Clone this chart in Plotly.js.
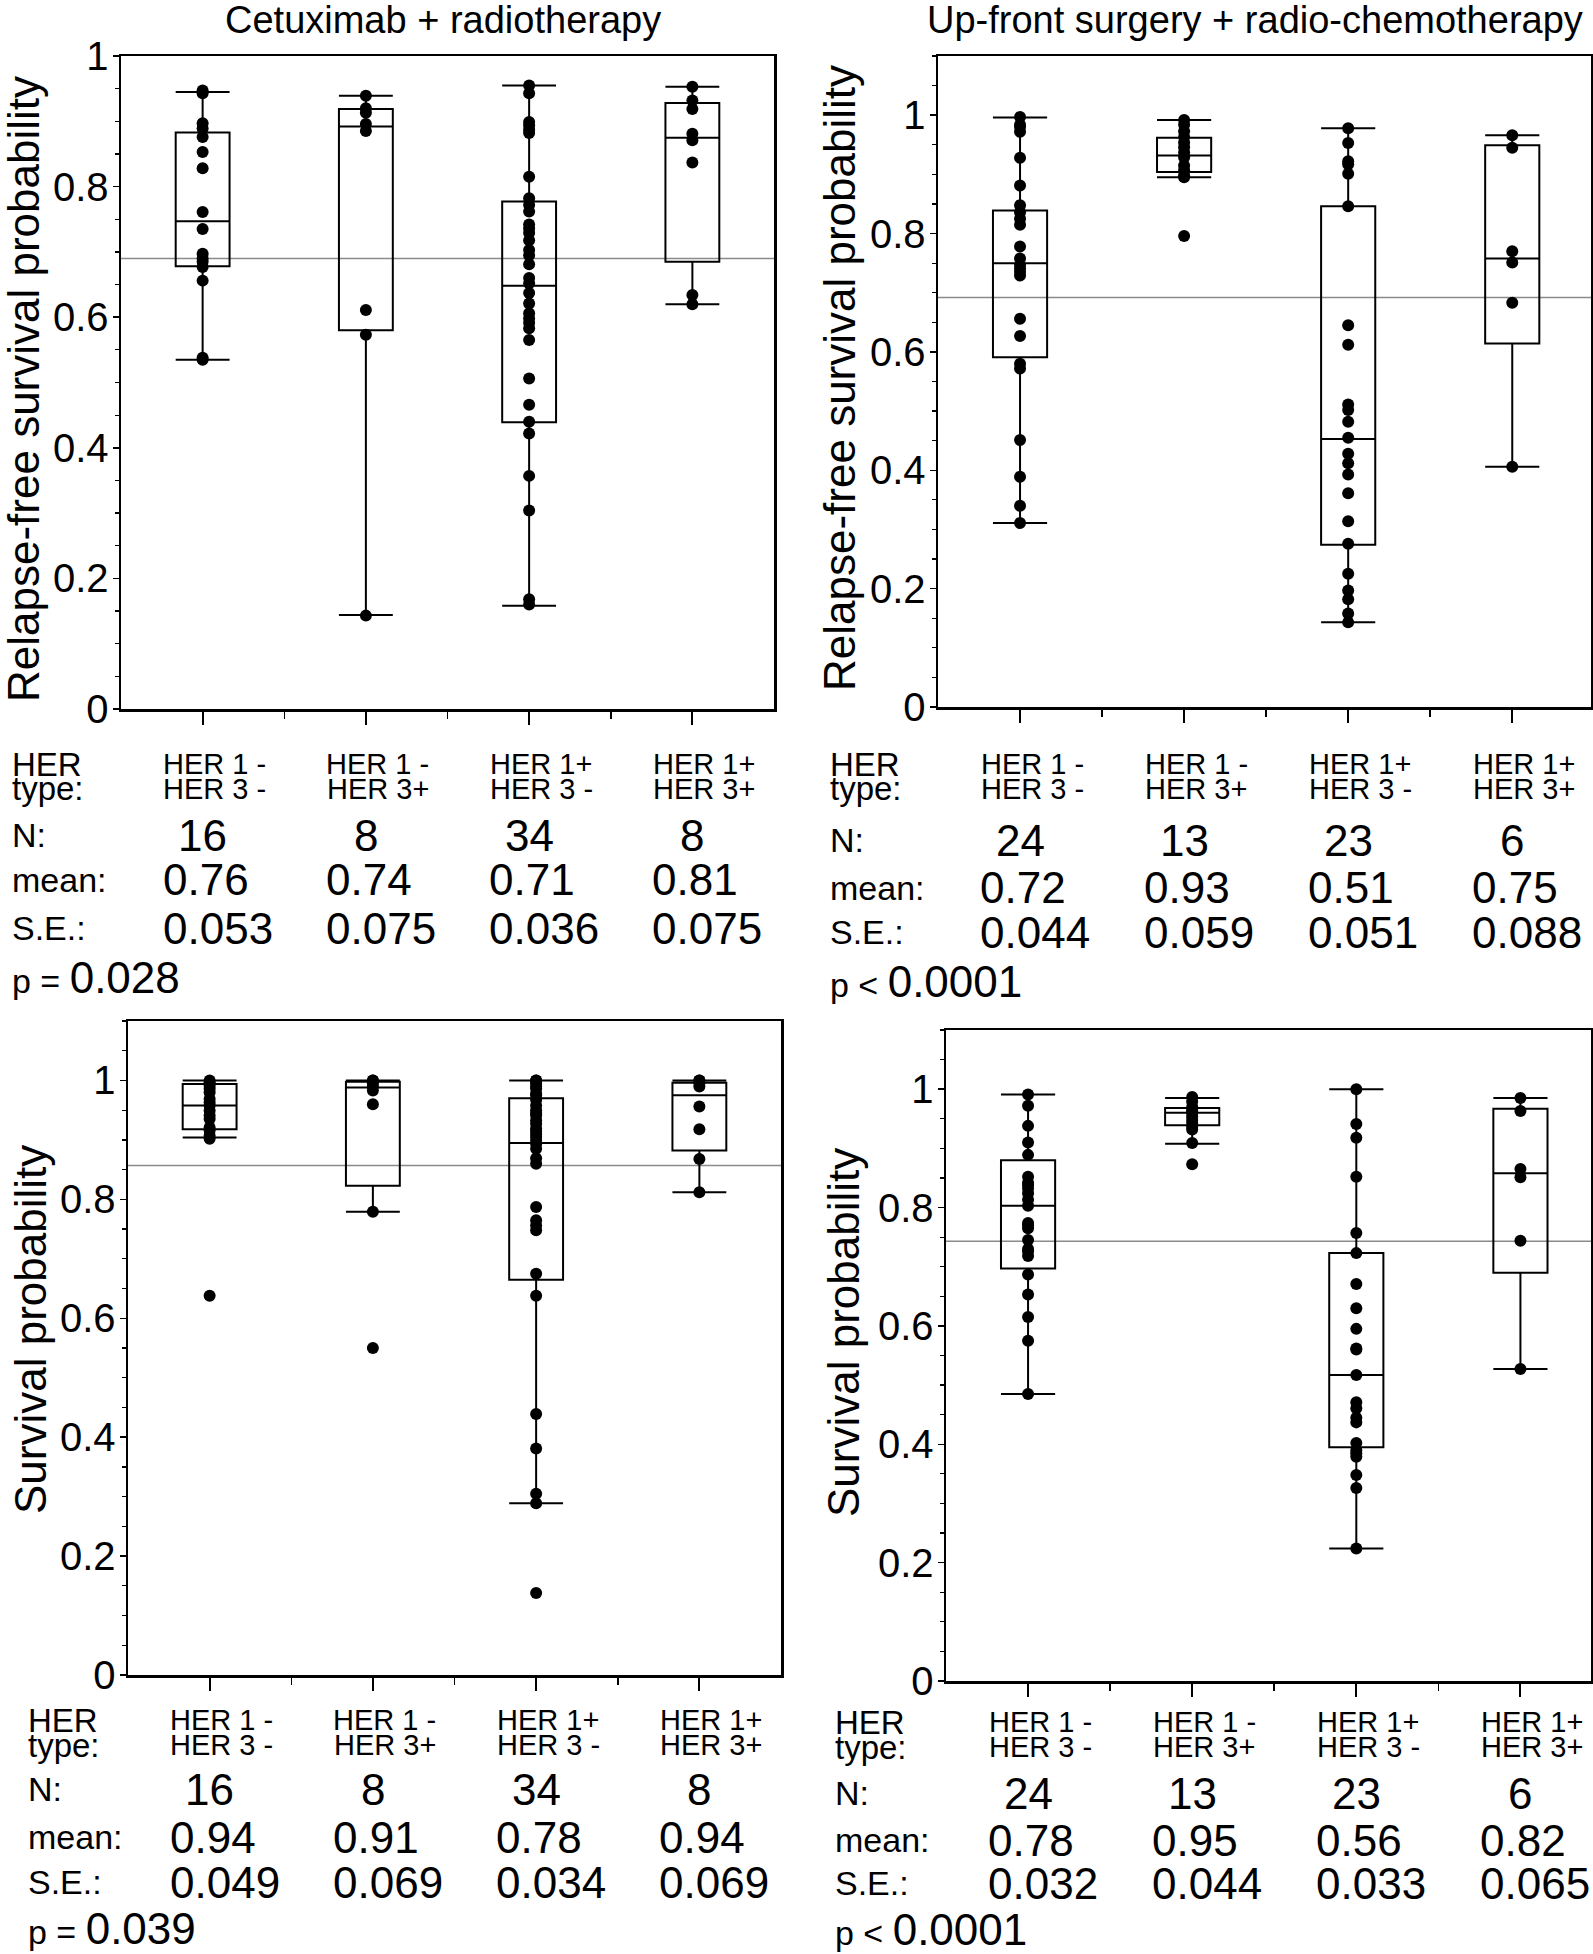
<!DOCTYPE html>
<html><head><meta charset="utf-8">
<script src="https://cdn.plot.ly/plotly-3.0.1.min.js"></script>
<style>html,body{margin:0;padding:0;background:#fff}#chart{width:1593px;height:1954px}</style>
</head><body><div id="chart"></div>
<script>
// ---------- shared labels ----------
const groupLine1 = ['HER 1 -', 'HER 1 -', 'HER 1+', 'HER 1+'];
const groupLine2 = ['HER 3 -', 'HER 3+', 'HER 3 -', 'HER 3+'];
const panelTitles = ['Cetuximab + radiotherapy', 'Up-front surgery + radio-chemotherapy'];
const yTitles = ['Relapse-free survival probability', 'Relapse-free survival probability', 'Survival probability', 'Survival probability'];
const yTickVals = [0, 0.2, 0.4, 0.6, 0.8, 1];
const yTickText = ['0', '0.2', '0.4', '0.6', '0.8', '1'];

// ---------- Panel A: relapse-free survival, cetuximab + RT ----------
const rfsCetuxPoints = [
  [0.947, 0.943, 0.897, 0.889, 0.876, 0.853, 0.828, 0.761, 0.735, 0.697, 0.690, 0.685, 0.677, 0.656, 0.538, 0.535],
  [0.939, 0.920, 0.913, 0.896, 0.885, 0.611, 0.573, 0.143],
  [0.955, 0.943, 0.899, 0.894, 0.887, 0.882, 0.815, 0.782, 0.772, 0.762, 0.742, 0.736, 0.729, 0.718, 0.703, 0.695, 0.681,
   0.660, 0.652, 0.637, 0.621, 0.606, 0.598, 0.591, 0.583, 0.565, 0.506, 0.466, 0.440, 0.422, 0.357, 0.304, 0.168, 0.160],
  [0.953, 0.932, 0.919, 0.881, 0.871, 0.837, 0.634, 0.620]
];
const rfsCetuxQ1 = [0.678, 0.580, 0.439, 0.685];
const rfsCetuxMedian = [0.747, 0.892, 0.648, 0.875];
const rfsCetuxQ3 = [0.883, 0.919, 0.777, 0.928];
const rfsCetuxLow = [0.535, 0.144, 0.158, 0.620];
const rfsCetuxHigh = [0.945, 0.939, 0.955, 0.953];
const rfsCetuxOverall = 0.690;
const rfsCetuxN = ['16', '8', '34', '8'];
const rfsCetuxMean = ['0.76', '0.74', '0.71', '0.81'];
const rfsCetuxSE = ['0.053', '0.075', '0.036', '0.075'];
const rfsCetuxP = ['=', '0.028'];

// ---------- Panel B: relapse-free survival, surgery + RCT ----------
const rfsSurgPoints = [
  [0.997, 0.984, 0.980, 0.972, 0.928, 0.881, 0.848, 0.836, 0.825, 0.815, 0.778, 0.758, 0.747, 0.741, 0.735, 0.729,
   0.656, 0.627, 0.580, 0.572, 0.451, 0.389, 0.340, 0.311],
  [0.992, 0.984, 0.973, 0.963, 0.954, 0.946, 0.937, 0.929, 0.915, 0.907, 0.898, 0.895, 0.796],
  [0.978, 0.953, 0.922, 0.917, 0.901, 0.846, 0.645, 0.612, 0.511, 0.502, 0.482, 0.455, 0.428, 0.412, 0.393, 0.361,
   0.314, 0.276, 0.225, 0.197, 0.182, 0.158, 0.143],
  [0.966, 0.945, 0.770, 0.751, 0.683, 0.406]
];
const rfsSurgQ1 = [0.591, 0.904, 0.274, 0.614];
const rfsSurgMedian = [0.750, 0.932, 0.453, 0.758];
const rfsSurgQ3 = [0.839, 0.962, 0.846, 0.949];
const rfsSurgLow = [0.311, 0.895, 0.143, 0.406];
const rfsSurgHigh = [0.996, 0.992, 0.978, 0.966];
const rfsSurgOverall = 0.692;
const rfsSurgN = ['24', '13', '23', '6'];
const rfsSurgMean = ['0.72', '0.93', '0.51', '0.75'];
const rfsSurgSE = ['0.044', '0.059', '0.051', '0.088'];
const rfsSurgP = ['&lt;', '0.0001'];

// ---------- Panel C: overall survival, cetuximab + RT ----------
const osCetuxPoints = [
  [1.0, 0.997, 0.991, 0.986, 0.980, 0.969, 0.963, 0.958, 0.949, 0.941, 0.935, 0.921, 0.916, 0.907, 0.902, 0.638],
  [1.0, 1.0, 0.995, 0.990, 0.983, 0.960, 0.779, 0.550],
  [1.0, 1.0, 0.995, 0.990, 0.986, 0.978, 0.975, 0.967, 0.958, 0.950, 0.945, 0.941, 0.933, 0.927, 0.919, 0.915, 0.910,
   0.905, 0.899, 0.893, 0.885, 0.869, 0.860, 0.787, 0.765, 0.756, 0.748, 0.675, 0.638, 0.439, 0.381, 0.305, 0.289, 0.138],
  [1.0, 1.0, 0.995, 0.990, 0.956, 0.918, 0.868, 0.812]
];
const osCetuxQ1 = [0.918, 0.823, 0.665, 0.882];
const osCetuxMedian = [0.958, 0.988, 0.895, 0.975];
const osCetuxQ3 = [0.994, 0.998, 0.970, 0.996];
const osCetuxLow = [0.904, 0.779, 0.289, 0.812];
const osCetuxHigh = [1.0, 1.0, 1.0, 1.0];
const osCetuxOverall = 0.857;
const osCetuxN = ['16', '8', '34', '8'];
const osCetuxMean = ['0.94', '0.91', '0.78', '0.94'];
const osCetuxSE = ['0.049', '0.069', '0.034', '0.069'];
const osCetuxP = ['=', '0.039'];

// ---------- Panel D: overall survival, surgery + RCT ----------
const osSurgPoints = [
  [0.991, 0.972, 0.938, 0.910, 0.889, 0.852, 0.842, 0.838, 0.832, 0.824, 0.813, 0.803, 0.774, 0.770, 0.765, 0.745,
   0.730, 0.726, 0.718, 0.687, 0.653, 0.615, 0.575, 0.485],
  [0.987, 0.979, 0.970, 0.965, 0.962, 0.960, 0.954, 0.948, 0.943, 0.937, 0.932, 0.909, 0.873],
  [1.0, 0.941, 0.918, 0.852, 0.757, 0.723, 0.671, 0.630, 0.595, 0.562, 0.560, 0.517, 0.471, 0.461, 0.445, 0.437,
   0.402, 0.390, 0.385, 0.379, 0.348, 0.326, 0.224],
  [0.985, 0.963, 0.865, 0.851, 0.744, 0.527]
];
const osSurgQ1 = [0.697, 0.939, 0.395, 0.690];
const osSurgMedian = [0.803, 0.960, 0.517, 0.858];
const osSurgQ3 = [0.880, 0.968, 0.723, 0.967];
const osSurgLow = [0.485, 0.908, 0.224, 0.527];
const osSurgHigh = [0.991, 0.985, 1.0, 0.985];
const osSurgOverall = 0.743;
const osSurgN = ['24', '13', '23', '6'];
const osSurgMean = ['0.78', '0.95', '0.56', '0.82'];
const osSurgSE = ['0.032', '0.044', '0.033', '0.065'];
const osSurgP = ['&lt;', '0.0001'];

// ---------- geometry (pixels of the 1593 x 1954 page) ----------
const W = 1593, H = 1954;
const FONT = 'Liberation Sans, Arial, Helvetica, sans-serif';
const px = v => v / W;
const py = v => 1 - v / H;

const panels = [
  {pts: rfsCetuxPoints, q1: rfsCetuxQ1, med: rfsCetuxMedian, q3: rfsCetuxQ3, lo: rfsCetuxLow, hi: rfsCetuxHigh,
   ref: rfsCetuxOverall, n: rfsCetuxN, mean: rfsCetuxMean, se: rfsCetuxSE, p: rfsCetuxP, ytitle: yTitles[0],
   g: {x0: 121, x1: 774, yT: 56, yB: 709, xr: [-0.5, 3.5], yr: [0, 1], ytx: 23, yty: 389, lx: 10,
       rows: {h1: 764, h2: 789, n: 835, mean: 880, se: 928, p: 977}}},
  {pts: rfsSurgPoints, q1: rfsSurgQ1, med: rfsSurgMedian, q3: rfsSurgQ3, lo: rfsSurgLow, hi: rfsSurgHigh,
   ref: rfsSurgOverall, n: rfsSurgN, mean: rfsSurgMean, se: rfsSurgSE, p: rfsSurgP, ytitle: yTitles[1],
   g: {x0: 938, x1: 1591, yT: 56, yB: 707, xr: [-0.5, 3.48], yr: [0, 1.1], ytx: 840, yty: 378, lx: 828,
       rows: {h1: 764, h2: 789, n: 840, mean: 888, se: 932, p: 982}}},
  {pts: osCetuxPoints, q1: osCetuxQ1, med: osCetuxMedian, q3: osCetuxQ3, lo: osCetuxLow, hi: osCetuxHigh,
   ref: osCetuxOverall, n: osCetuxN, mean: osCetuxMean, se: osCetuxSE, p: osCetuxP, ytitle: yTitles[2],
   g: {x0: 128, x1: 781, yT: 1021, yB: 1675, xr: [-0.5, 3.5], yr: [0, 1.1], ytx: 30, yty: 1330, lx: 26,
       rows: {h1: 1720, h2: 1745, n: 1789, mean: 1837, se: 1882, p: 1928}}},
  {pts: osSurgPoints, q1: osSurgQ1, med: osSurgMedian, q3: osSurgQ3, lo: osSurgLow, hi: osSurgHigh,
   ref: osSurgOverall, n: osSurgN, mean: osSurgMean, se: osSurgSE, p: osSurgP, ytitle: yTitles[3],
   g: {x0: 946, x1: 1591, yT: 1030, yB: 1681, xr: [-0.5, 3.43], yr: [0, 1.1], ytx: 843, yty: 1333, lx: 833,
       rows: {h1: 1722, h2: 1747, n: 1793, mean: 1840, se: 1883, p: 1929}}}
];

const cats = [0, 1, 2, 3];
const traces = [];
const annotations = [];
const shapes = [];
const layout = {
  width: W, height: H, margin: {l: 0, r: 0, t: 0, b: 0},
  paper_bgcolor: '#fff', plot_bgcolor: '#fff', showlegend: false,
  font: {family: FONT, color: '#000'}
};

panels.forEach((P, i) => {
  const k = i === 0 ? '' : String(i + 1);
  const xa = 'x' + k, ya = 'y' + k;
  const g = P.g;
  layout['xaxis' + k] = {
    domain: [px(g.x0), px(g.x1)], range: g.xr, anchor: ya,
    showline: true, linecolor: '#000', linewidth: 2.5, mirror: true,
    showgrid: false, zeroline: false, fixedrange: true,
    tickmode: 'array', tickvals: cats, showticklabels: false,
    ticks: 'outside', ticklen: 13, tickwidth: 2, tickcolor: '#000',
    minor: {tickmode: 'array', tickvals: [0.5, 1.5, 2.5], ticks: 'outside', ticklen: 7, tickwidth: 1.5, tickcolor: '#000', showgrid: false}
  };
  layout['yaxis' + k] = {
    domain: [py(g.yB), py(g.yT)], range: g.yr, anchor: xa,
    showline: true, linecolor: '#000', linewidth: 2.5, mirror: true,
    showgrid: false, zeroline: false, fixedrange: true,
    tickmode: 'array', tickvals: yTickVals, ticktext: yTickText,
    ticks: 'outside', ticklen: 6, tickwidth: 1.5, tickcolor: '#000', ticklabelstandoff: -4,
    tickfont: {family: FONT, size: 40, color: '#000'},
    minor: {dtick: 0.05, tick0: 0, ticks: 'outside', ticklen: 4, tickwidth: 1.2, tickcolor: '#000', showgrid: false}
  };

  // overall mean reference line
  shapes.push({type: 'line', xref: xa + ' domain', yref: ya, x0: 0, x1: 1, y0: P.ref, y1: P.ref,
               line: {color: '#8a8a8a', width: 1.6}, layer: 'below'});

  // boxes from the read-off statistics
  traces.push({
    type: 'box', xaxis: xa, yaxis: ya, orientation: 'v',
    x: cats, q1: P.q1, median: P.med, q3: P.q3, lowerfence: P.lo, upperfence: P.hi,
    boxpoints: false, width: 0.33, whiskerwidth: 1,
    fillcolor: 'rgba(0,0,0,0)', line: {color: '#000', width: 2}, hoverinfo: 'skip'
  });

  // individual points
  const xs = [], ys = [];
  P.pts.forEach((arr, j) => arr.forEach(v => { xs.push(j); ys.push(v); }));
  traces.push({
    type: 'scatter', mode: 'markers', xaxis: xa, yaxis: ya, x: xs, y: ys,
    marker: {color: '#000', size: 12}, hoverinfo: 'skip', cliponaxis: false
  });

  // y-axis title
  annotations.push({xref: 'paper', yref: 'paper', x: px(g.ytx), y: py(g.yty), text: P.ytitle, textangle: -90,
                    showarrow: false, xanchor: 'center', yanchor: 'middle', font: {family: FONT, size: 44, color: '#000'}});

  // row headers
  const rowHead = (txt, y, size) => annotations.push({xref: 'paper', yref: 'paper', x: px(g.lx), y: py(y), text: txt,
      showarrow: false, xanchor: 'left', yanchor: 'middle', font: {family: FONT, size: size, color: '#000'}});
  rowHead('HER', g.rows.h1, 33);
  rowHead('type:', g.rows.h2, 33);
  rowHead('N:', g.rows.n, 34);
  rowHead('mean:', g.rows.mean, 34);
  rowHead('S.E.:', g.rows.se, 34);
  rowHead('p ' + P.p[0] + ' <span style="font-size:44px">' + P.p[1] + '</span>', g.rows.p, 34);

  // column entries, placed on the category axis
  const col = (txt, j, y, size, shift) => annotations.push({xref: xa, yref: 'paper', x: j, y: py(y), text: txt,
      showarrow: false, xanchor: 'center', yanchor: 'middle', xshift: shift, font: {family: FONT, size: size, color: '#000'}});
  cats.forEach(j => {
    col(groupLine1[j], j, g.rows.h1, 29, 12);
    col(groupLine2[j], j, g.rows.h2, 29, 12);
    col(P.n[j], j, g.rows.n, 44, 0);
    col(P.mean[j], j, g.rows.mean, 44, 3);
    col(P.se[j], j, g.rows.se, 44, 15);
  });
});

// panel column titles
annotations.push({xref: 'paper', yref: 'paper', x: px(443), y: py(20), text: panelTitles[0], showarrow: false,
                  xanchor: 'center', yanchor: 'middle', font: {family: FONT, size: 38, color: '#000'}});
annotations.push({xref: 'paper', yref: 'paper', x: px(1255), y: py(20), text: panelTitles[1], showarrow: false,
                  xanchor: 'center', yanchor: 'middle', font: {family: FONT, size: 38, color: '#000'}});

layout.annotations = annotations;
layout.shapes = shapes;

Plotly.newPlot('chart', traces, layout, {displayModeBar: false, staticPlot: true});
</script>
</body></html>
